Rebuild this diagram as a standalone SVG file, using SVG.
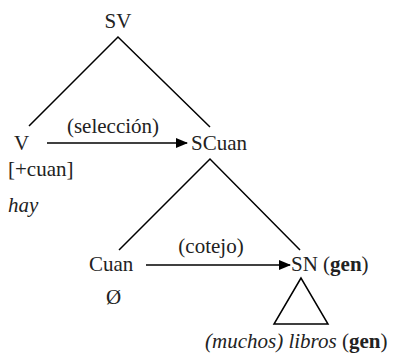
<svg xmlns="http://www.w3.org/2000/svg" width="399" height="354" viewBox="0 0 399 354">
<defs>
<marker id="ah" markerWidth="12" markerHeight="10" refX="11" refY="5" orient="auto" markerUnits="userSpaceOnUse">
<path d="M0,0 L12,5 L0,10 z" fill="#000"/>
</marker>
</defs>
<style>
text{font-family:"Liberation Serif","Times New Roman",serif;font-size:21px;fill:#222}
.i{font-style:italic}
.b{font-weight:bold}
.e{stroke:#000;stroke-width:1.5;fill:none}
</style>
<rect width="399" height="354" fill="#fff"/>
<g id="connectors">
<path class="e" d="M29,126 L118,37 L210,127"/>
<path class="e" d="M119,250 L210,159 L300,250"/>
<line class="e" x1="47" y1="143" x2="187" y2="143" marker-end="url(#ah)"/>
<line class="e" x1="146" y1="265" x2="290" y2="265" marker-end="url(#ah)"/>
<path class="e" d="M301,278 L274,324 L328,324 z"/>
</g>
<g id="SV"><text x="118" y="28" text-anchor="middle">SV</text></g>
<g id="V"><text x="14" y="150">V</text><text x="8" y="176">[+cuan]</text><text x="8" y="212" class="i">hay</text></g>
<g id="sel"><text x="113" y="133" text-anchor="middle">(selección)</text></g>
<g id="SCuan"><text x="191" y="150">SCuan</text></g>
<g id="Cuan"><text x="89" y="271">Cuan</text><text x="106" y="304">Ø</text></g>
<g id="cot"><text x="211" y="253" text-anchor="middle">(cotejo)</text></g>
<g id="SN"><text x="291" y="271">SN (<tspan class="b">gen</tspan>)</text></g>
<g id="libros"><text x="205" y="348"><tspan class="i">(muchos) libros</tspan> (<tspan class="b">gen</tspan>)</text></g>
</svg>
